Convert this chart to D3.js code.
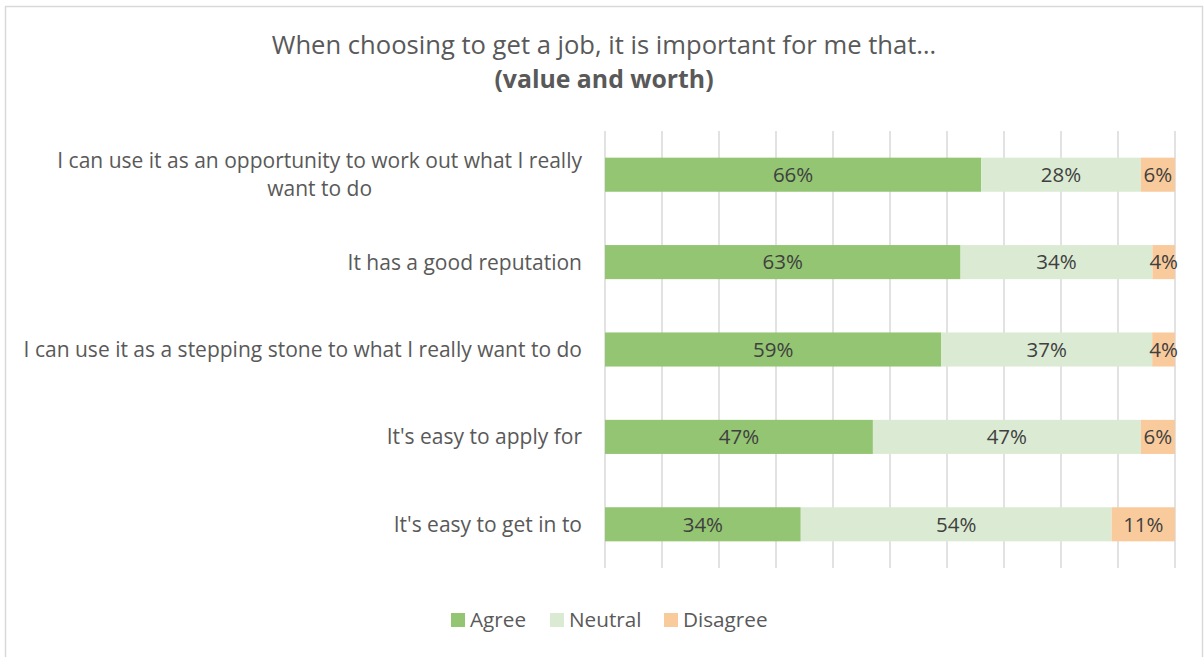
<!DOCTYPE html>
<html>
<head>
<meta charset="utf-8">
<script src="https://cdn.jsdelivr.net/npm/d3@7"></script>
<style>
  html, body { margin: 0; padding: 0; background: #fff; }
  svg { display: block; }
  text { font-family: "Open Sans", Lato, sans-serif; }
</style>
</head>
<body>
<svg id="chart" width="1204" height="657"></svg>
<script>
// Survey statements (top to bottom) and answer shares in percent
const categories = [
  ["I can use it as an opportunity to work out what I really", "want to do"],
  ["It has a good reputation"],
  ["I can use it as a stepping stone to what I really want to do"],
  ["It's easy to apply for"],
  ["It's easy to get in to"]
];
const seriesNames = ["Agree", "Neutral", "Disagree"];
const agree    = [66, 63, 59, 47, 34];
const neutral  = [28, 34, 37, 47, 54];
const disagree = [6, 4, 4, 6, 11];
const xTicks = [0, 0.1, 0.2, 0.3, 0.4, 0.5, 0.6, 0.7, 0.8, 0.9, 1];

const colors = { Agree: "#93c572", Neutral: "#dbebd3", Disagree: "#f9cb9c" };

const rows = categories.map((c, i) => ({
  key: i, label: c, Agree: agree[i], Neutral: neutral[i], Disagree: disagree[i]
}));

const svg = d3.select("#chart");

// outer chart frame
svg.append("rect")
  .attr("x", 5.5).attr("y", 6.5).attr("width", 1197).attr("height", 660)
  .attr("fill", "#fff").attr("stroke", "#d9d9d9").attr("stroke-width", 1.5);

// title
const title = svg.append("text").attr("text-anchor", "middle").attr("fill", "#595959");
title.append("tspan").attr("x", 604).attr("y", 54).attr("font-size", 25.6)
  .text("When choosing to get a job, it is important for me that…");
title.append("tspan").attr("x", 604).attr("y", 88).attr("font-size", 24.8).attr("font-weight", "bold")
  .text("(value and worth)");

const plot = { left: 605, right: 1175, top: 131, bottom: 568 };

// stacked 100% layout
const stack = d3.stack().keys(seriesNames).offset(d3.stackOffsetExpand);
const layers = stack(rows);

const x = d3.scaleLinear().domain([0, 1]).range([plot.left, plot.right]);
const y = d3.scaleBand().domain(rows.map(r => r.key))
  .range([plot.top, plot.bottom]).paddingInner(0.61).paddingOuter(0.305);

// vertical gridlines
svg.append("g").selectAll("line").data(xTicks).join("line")
  .attr("x1", d => x(d)).attr("x2", d => x(d))
  .attr("y1", plot.top).attr("y2", plot.bottom)
  .attr("stroke", "#d9d9d9").attr("stroke-width", 1.5);

// bars
const g = svg.append("g");
layers.forEach(layer => {
  g.append("g").attr("fill", colors[layer.key])
    .selectAll("rect").data(layer).join("rect")
    .attr("x", d => x(d[0]))
    .attr("y", d => y(d.data.key))
    .attr("width", d => x(d[1]) - x(d[0]))
    .attr("height", y.bandwidth());

  g.append("g").attr("fill", "#404040").attr("font-size", 20.5).attr("text-anchor", "middle")
    .selectAll("text").data(layer).join("text")
    .attr("x", d => (x(d[0]) + x(d[1])) / 2)
    .attr("y", d => y(d.data.key) + y.bandwidth() / 2)
    .attr("dy", "0.36em")
    .text(d => d.data[layer.key] + "%");
});

// category labels: block right-aligned, lines centred within the block
const labelRight = 582;
const lineH = 28;
rows.forEach(r => {
  const cy = y(r.key) + y.bandwidth() / 2;
  const t = svg.append("text").attr("fill", "#595959").attr("font-size", 21).attr("text-anchor", "middle");
  const n = r.label.length;
  const spans = r.label.map((line, j) =>
    t.append("tspan").attr("y", cy + (j - (n - 1) / 2) * lineH).attr("dy", "0.36em").text(line));
  const widths = spans.map(s => s.node().getComputedTextLength());
  const blockW = d3.max(widths);
  spans.forEach(s => s.attr("x", labelRight - blockW / 2));
});

// legend
const legend = svg.append("g").attr("font-size", 20.7).attr("fill", "#595959");
const legendX = [451, 550, 664];
seriesNames.forEach((name, i) => {
  legend.append("rect").attr("x", legendX[i]).attr("y", 613).attr("width", 14).attr("height", 14)
    .attr("fill", colors[name]);
  legend.append("text").attr("x", legendX[i] + 19).attr("y", 620).attr("dy", "0.36em").text(name);
});
</script>
</body>
</html>
